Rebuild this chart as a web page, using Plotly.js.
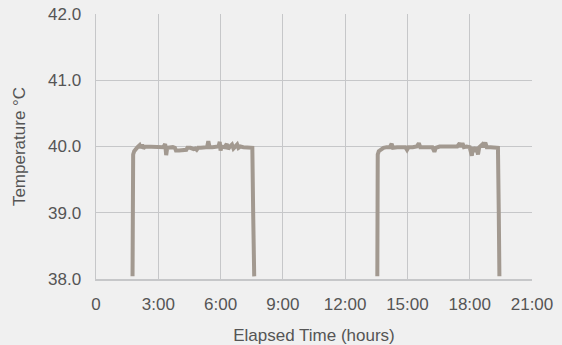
<!DOCTYPE html>
<html>
<head>
<meta charset="utf-8">
<script src="https://cdn.plot.ly/plotly-3.0.1.min.js"></script>
<style>
html,body{margin:0;padding:0;background:#f0f0f0;}
#chart{width:562px;height:345px;}
</style>
</head>
<body>
<div id="chart"></div>
<script>
// Session 1 (hours, °C)
const hours1 = [1.76,1.79,1.84,1.92,2.00,2.10,2.15,2.22,2.28,2.36,2.50,2.65,2.80,2.95,3.10,3.25,3.33,3.38,3.43,3.55,3.70,3.80,3.85,4.00,4.20,4.35,4.40,4.55,4.70,4.78,4.85,4.92,5.05,5.20,5.35,5.41,5.47,5.60,5.75,5.90,5.96,6.00,6.05,6.20,6.30,6.36,6.45,6.55,6.62,6.72,6.80,6.86,6.95,7.10,7.25,7.40,7.53,7.57,7.62];
const temps1 = [38.04,39.88,39.93,39.97,39.99,40.02,39.98,40.03,39.97,40.00,40.00,39.99,40.00,39.99,40.00,39.99,40.04,39.87,39.98,39.99,39.99,39.98,39.94,39.94,39.94,39.95,39.98,39.98,39.96,39.97,39.95,39.98,39.98,39.98,39.99,40.08,39.99,39.99,39.99,40.00,40.07,39.94,40.00,39.99,40.04,39.96,40.00,40.03,39.97,40.01,40.03,39.98,40.00,39.99,39.99,39.99,39.98,39.00,38.04];
// Session 2 (hours, °C)
const hours2 = [13.55,13.57,13.62,13.72,13.85,14.00,14.15,14.24,14.30,14.50,14.70,14.90,14.98,15.05,15.25,15.45,15.55,15.62,15.80,16.00,16.20,16.30,16.36,16.55,16.80,17.00,17.20,17.40,17.52,17.58,17.65,17.72,17.85,18.00,18.10,18.16,18.25,18.32,18.40,18.46,18.60,18.66,18.75,18.82,19.00,19.15,19.36,19.40,19.43];
const temps2 = [38.04,39.88,39.93,39.96,39.98,39.99,39.99,40.04,39.98,39.99,39.99,39.99,39.95,39.99,39.99,40.00,40.05,39.99,39.99,39.99,39.99,39.92,39.98,40.00,40.00,40.00,40.00,40.00,40.05,39.99,40.05,39.99,40.00,39.99,39.86,39.99,39.92,39.99,39.88,39.99,40.03,39.99,40.06,39.99,39.99,39.99,39.98,39.00,38.04];

const xTickVals = [0,3,6,9,12,15,18,21];
const xTickText = ["0","3:00","6:00","9:00","12:00","15:00","18:00","21:00"];
const yTickVals = [38,39,40,41,42];
const yTickText = ["38.0","39.0","40.0","41.0","42.0"];

const lineColor = "rgb(162,153,144)";
const traces = [
  {x: hours1, y: temps1, mode: "lines", line: {color: lineColor, width: 4}, hoverinfo: "x+y"},
  {x: hours2, y: temps2, mode: "lines", line: {color: lineColor, width: 4}, hoverinfo: "x+y"}
];

const fontFam = "Liberation Sans, Arial, Helvetica, sans-serif";
const layout = {
  width: 562, height: 345,
  paper_bgcolor: "#f0f0f0",
  plot_bgcolor: "#f0f0f0",
  showlegend: false,
  margin: {l: 96, r: 30, t: 14, b: 66},
  font: {family: fontFam, size: 16, color: "#555555"},
  xaxis: {
    range: [0, 21],
    tickvals: xTickVals, ticktext: xTickText,
    showgrid: true, gridcolor: "#c6c7c9", gridwidth: 1,
    showline: true, linecolor: "#c6c7c9", linewidth: 1.5,
    zeroline: false,
    ticks: "outside", ticklen: 9, tickcolor: "rgba(0,0,0,0)",
    tickfont: {family: fontFam, size: 17, color: "#555555"},
    title: {text: "Elapsed Time (hours)", font: {family: fontFam, size: 17, color: "#555555"}, standoff: 18}
  },
  yaxis: {
    range: [38, 42],
    tickvals: yTickVals, ticktext: yTickText,
    showgrid: true, gridcolor: "#c6c7c9", gridwidth: 1,
    showline: true, linecolor: "#c6c7c9", linewidth: 1.5,
    zeroline: false,
    ticks: "outside", ticklen: 10, tickcolor: "rgba(0,0,0,0)",
    tickfont: {family: fontFam, size: 17, color: "#555555"},
    title: {text: "Temperature °C", font: {family: fontFam, size: 17, color: "#555555"}, standoff: 18}
  }
};

Plotly.newPlot("chart", traces, layout, {displayModeBar: false, staticPlot: true});
</script>
</body>
</html>
